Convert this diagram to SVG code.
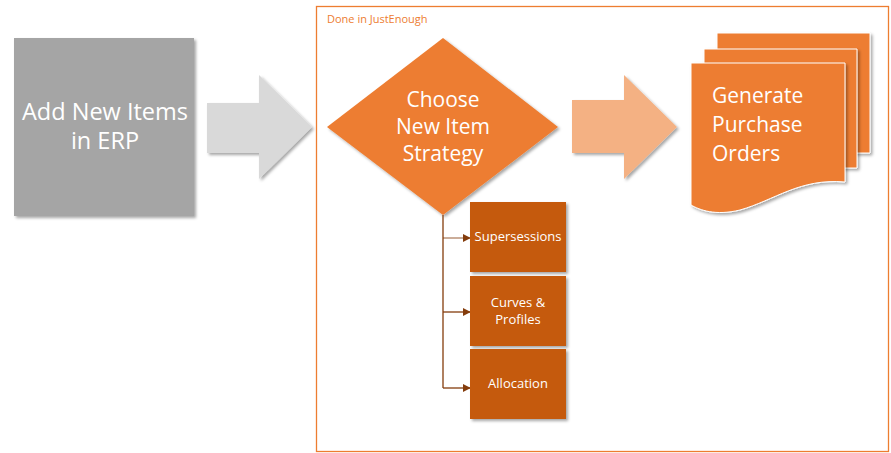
<svg xmlns="http://www.w3.org/2000/svg" width="891" height="453" viewBox="0 0 891 453">
<defs>
<filter id="sh" x="-10%" y="-10%" width="130%" height="130%">
<feDropShadow dx="2" dy="2" stdDeviation="1.5" flood-color="#000" flood-opacity="0.35"/>
</filter>
<marker id="ah" viewBox="0 0 10 10" refX="9" refY="5" markerWidth="8" markerHeight="8" orient="auto" markerUnits="userSpaceOnUse">
<path d="M0,0 L10,5 L0,10 z" fill="#843C0C"/>
</marker>
<style>
.t{font-family:"Open Sans","Liberation Sans",sans-serif;fill:#fff}
.big{font-size:23.5px}
.mid{font-size:21px}
.sm{font-size:13px}
.con{stroke:#843C0C;stroke-width:1.3;fill:none}
.sub{fill:#C55A11;filter:url(#sh)}
</style>
</defs>
<rect width="891" height="453" fill="#fff"/>

<g id="frame">
<rect x="316.5" y="6.5" width="572" height="445" fill="none" stroke="#ED7D31" stroke-width="1.3"/>
<text x="327" y="23" font-family="'Open Sans','Liberation Sans',sans-serif" font-size="11" fill="#ED7D31">Done  in JustEnough</text>
</g>

<g id="add-items">
<rect x="14" y="38" width="180" height="178" fill="#A5A5A5" filter="url(#sh)"/>
<text class="t big" x="105" y="120" text-anchor="middle">Add New Items</text>
<text class="t big" x="105" y="149" text-anchor="middle">in ERP</text>
</g>

<g id="arrow-gray">
<path d="M207,103 H259 V75 L312,127 L259,179 V153 H207 Z" fill="#D9D9D9" filter="url(#sh)"/>
</g>

<g id="choose">
<path d="M443,38 L558,127 L443,215 L327,127 Z" fill="#ED7D31" filter="url(#sh)"/>
<text class="t mid" x="443" y="107" text-anchor="middle">Choose</text>
<text class="t mid" x="443" y="134" text-anchor="middle">New Item</text>
<text class="t mid" x="443" y="161" text-anchor="middle">Strategy</text>
</g>

<g id="arrow-orange">
<path d="M572,100 H624 V75 L677,127 L624,179 V153 H572 Z" fill="#F4B183" filter="url(#sh)"/>
</g>

<g id="purchase-orders">
<path d="M717,33 H870 V153 H717 Z" fill="#ED7D31" stroke="#fff" stroke-width="1" filter="url(#sh)"/>
<path d="M704,49 H857 V168 H704 Z" fill="#ED7D31" stroke="#fff" stroke-width="1" filter="url(#sh)"/>
<path d="M691,63 H845 V182 C800,178 775,200 740,210 C715,216 700,210 691,205 Z" fill="#ED7D31" stroke="#fff" stroke-width="1" filter="url(#sh)"/>
<text class="t mid" x="712" y="103">Generate</text>
<text class="t mid" x="712" y="132">Purchase</text>
<text class="t mid" x="712" y="161">Orders</text>
</g>

<g id="connectors">
<path class="con" d="M443,215 V388"/>
<path class="con" d="M443,238 H470" marker-end="url(#ah)" stroke-opacity="0.65"/>
<path class="con" d="M443,312 H470" marker-end="url(#ah)"/>
<path class="con" d="M443,388 H470" marker-end="url(#ah)"/>
</g>

<g id="supersessions">
<rect class="sub" x="470" y="202" width="96" height="70"/>
<text class="t sm" x="518" y="241" text-anchor="middle">Supersessions</text>
</g>
<g id="curves-profiles">
<rect class="sub" x="470" y="276" width="96" height="70"/>
<text class="t sm" x="518" y="307" text-anchor="middle">Curves &amp;</text>
<text class="t sm" x="518" y="324" text-anchor="middle">Profiles</text>
</g>
<g id="allocation">
<rect class="sub" x="470" y="349" width="96" height="70"/>
<text class="t sm" x="518" y="388" text-anchor="middle">Allocation</text>
</g>
</svg>
